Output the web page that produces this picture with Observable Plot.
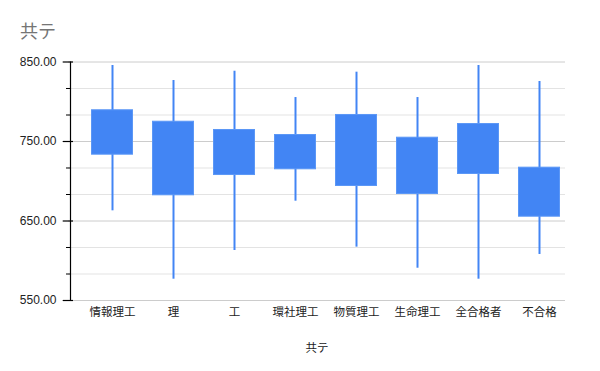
<!DOCTYPE html>
<html>
<head>
<meta charset="utf-8">
<script src="https://cdn.jsdelivr.net/npm/d3@7"></script>
<script src="https://cdn.jsdelivr.net/npm/@observablehq/plot@0.6"></script>
<style>
  html, body { margin: 0; padding: 0; background: #fff; }
  #wrap { position: relative; width: 600px; height: 371px; }
  #title { position: absolute; left: 20px; top: 17px; font-family: "Noto Sans CJK JP", "Noto Sans", sans-serif; font-size: 18px; color: #757575; }
</style>
</head>
<body>
<div id="wrap"><div id="title">共テ</div></div>
<script>
const categories = ["情報理工", "理", "工", "環社理工", "物質理工", "生命理工", "全合格者", "不合格"];
const lows       = [662.8, 576.8, 612.9, 674.9, 617.1, 590.6, 576.8, 607.9];
const boxBottoms = [732.8, 681.7, 707.2, 714.4, 693.4, 683.3, 708.5, 654.8];
const boxTops    = [789.9, 775.5, 765.1, 758.8, 784.0, 755.4, 772.6, 717.7];
const highs      = [845.6, 826.7, 838.4, 805.3, 837.2, 805.3, 845.6, 825.5];
const yMajorTicks = [550, 650, 750, 850];
const yAllTicks = [550, 583.33, 616.67, 650, 683.33, 716.67, 750, 783.33, 816.67, 850];
const yMinorTicks = yAllTicks.filter(t => !yMajorTicks.includes(t));
const xTitle = "共テ";

const data = categories.map((c, i) => ({cat: c, low: lows[i], bb: boxBottoms[i], bt: boxTops[i], high: highs[i]}));
const blue = "#4285F4";
const fontFam = '"Liberation Sans", Arial, "Noto Sans CJK JP", sans-serif';

const chart = Plot.plot({
  width: 600,
  height: 371,
  marginTop: 61.5,
  marginBottom: 71,
  marginLeft: 68,
  marginRight: 35,
  style: {fontFamily: fontFam, background: "transparent", color: "#222"},
  x: {type: "band", domain: categories, range: [79.3, 570.7], paddingInner: 0.316, paddingOuter: 0.158},
  y: {domain: [550, 850]},
  marks: [
    Plot.ruleY(yMinorTicks, {y: d => d, stroke: "#e3e3e3", strokeWidth: 1}),
    Plot.ruleY(yMajorTicks, {y: d => d, stroke: "#cccccc", strokeWidth: 1}),
    Plot.ruleX(data, {x: "cat", y1: "low", y2: "high", stroke: blue, strokeWidth: 2}),
    Plot.barY(data, {x: "cat", y1: "bb", y2: "bt", fill: blue, stroke: "#5b97f6", strokeWidth: 1, inset: 0.5}),
    // y axis line (frame left edge) and ticks
    Plot.ruleX([categories[0]], {x: d => d, y1: 550, y2: 850, stroke: "#000", strokeWidth: 1.2, dx: -42}),
    Plot.ruleY(yMajorTicks, {y: d => d, stroke: "#000", strokeWidth: 1.2, dx: -5.3, insetRight: 486.7}),
    Plot.ruleY(yMinorTicks, {y: d => d, stroke: "#000", strokeWidth: 1, dx: -2, insetRight: 492}),
    Plot.axisY({ticks: yMajorTicks, tickSize: 0, tickPadding: 12, tickFormat: d => d.toFixed(2), fontSize: 12, fill: "#222", label: null}),
    Plot.axisX({tickSize: 0, tickPadding: 7, fontSize: 11.5, fill: "#222", label: null, fontFamily: '"Noto Sans CJK JP", sans-serif'}),
    Plot.text([xTitle], {frameAnchor: "bottom", dy: 48, fontSize: 11.5, fill: "#222", lineAnchor: "middle", fontFamily: '"Noto Sans CJK JP", sans-serif'})
  ]
});
document.getElementById("wrap").appendChild(chart);
</script>
</body>
</html>
